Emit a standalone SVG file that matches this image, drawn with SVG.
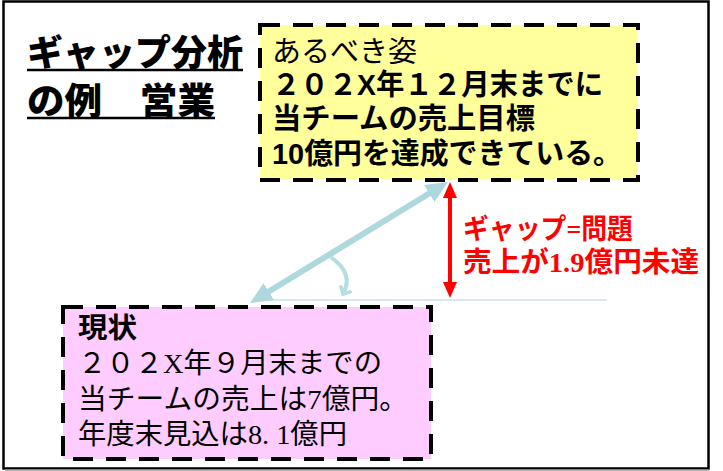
<svg xmlns="http://www.w3.org/2000/svg" width="723" height="471" viewBox="0 0 723 471">
  <style>
    .frame { fill: #ffffff; stroke: #000000; stroke-width: 2.5; }
    .box { stroke: #000000; stroke-width: 4; stroke-dasharray: 20 13; }
    .goal { fill: #ffff9c; }
    .now { fill: #ffccff; }
    .title { font-family: "Noto Sans CJK JP", sans-serif; font-weight: 900; font-size: 36px; fill: #000; }
    .ul { stroke: #000; stroke-width: 2.5; }
    .mincho { font-family: "Liberation Serif", "Noto Sans CJK JP", serif; font-weight: 400; font-size: 29px; fill: #000; }
    .goth { font-family: "Liberation Sans", "Noto Sans CJK JP", sans-serif; font-weight: 700; font-size: 29px; fill: #000; }
    .pink { font-family: "Liberation Serif", "Noto Sans CJK JP", serif; font-weight: 400; font-size: 28px; fill: #000; }
    .pinkb { font-family: "Liberation Serif", "Noto Sans CJK JP", serif; font-weight: 700; font-size: 28px; fill: #000; }
    .red { font-family: "Liberation Serif", "Noto Sans CJK JP", serif; font-weight: 700; font-size: 28px; fill: #ff0000; }
    .blue { stroke: #acd8de; stroke-width: 6; fill: none; }
    .base { stroke: #c4e2ea; stroke-width: 1.5; fill: none; }
    .arc { stroke: #b6dde3; stroke-width: 4; fill: none; stroke-linecap: round; }
    .redline { stroke: #ff0000; stroke-width: 4; fill: none; }
  </style>
  <defs>
    <marker id="redHead" viewBox="0 0 16 14" refX="8" refY="7" markerWidth="16" markerHeight="14" markerUnits="userSpaceOnUse" orient="auto-start-reverse">
      <path d="M0,0 L16,7 L0,14 z" fill="#ff0000"/>
    </marker>
    <marker id="blueHead" viewBox="0 0 22 20" refX="11" refY="10" markerWidth="22" markerHeight="20" markerUnits="userSpaceOnUse" orient="auto-start-reverse">
      <path d="M0,0 L22,10 L0,20 z" fill="#acd8de"/>
    </marker>
    <marker id="arcHead" viewBox="0 0 14 14" refX="7" refY="7" markerWidth="14" markerHeight="14" markerUnits="userSpaceOnUse" orient="auto">
      <path d="M1,1 L7,7 L1,13" fill="none" stroke="#b6dde3" stroke-width="3.5" stroke-linecap="round" stroke-linejoin="round"/>
    </marker>
  </defs>

  <rect class="frame" x="3.5" y="1.5" width="705" height="467"/>
  <line x1="5" y1="470" x2="709" y2="470" stroke="#9a9a9a" stroke-width="1.5"/>

  <g id="title">
    <text class="title" x="27" y="66" textLength="216" lengthAdjust="spacingAndGlyphs">ギャップ分析</text>
    <line class="ul" x1="27" y1="70" x2="243" y2="70"/>
    <text class="title" x="27" y="114" textLength="188" lengthAdjust="spacingAndGlyphs">の例　営業</text>
    <line class="ul" x1="27" y1="118" x2="215" y2="118"/>
  </g>

  <g id="connectors">
    <line class="base" x1="253" y1="300" x2="607" y2="300"/>
    <line class="blue" x1="438.6" y1="187.7" x2="259.4" y2="297.3" marker-start="url(#blueHead)" marker-end="url(#blueHead)"/>
    <path class="arc" d="M332,258 Q354,274 343,294" marker-end="url(#arcHead)"/>
    <line class="redline" x1="450" y1="190" x2="450" y2="290" marker-start="url(#redHead)" marker-end="url(#redHead)"/>
  </g>

  <g id="goal">
    <rect class="box goal" x="260" y="25" width="378" height="155"/>
    <text class="mincho" x="272" y="62" textLength="145" lengthAdjust="spacingAndGlyphs">あるべき姿</text>
    <text class="goth" x="272" y="95" textLength="331" lengthAdjust="spacingAndGlyphs">２０２X年１２月末までに</text>
    <text class="goth" x="272" y="129" textLength="263" lengthAdjust="spacingAndGlyphs">当チームの売上目標</text>
    <text class="goth" x="272" y="164" textLength="350" lengthAdjust="spacingAndGlyphs">10億円を達成できている。</text>
  </g>

  <g id="current">
    <rect class="box now" x="63" y="307" width="368" height="152"/>
    <text class="pinkb" x="78" y="338" textLength="59" lengthAdjust="spacingAndGlyphs">現状</text>
    <text class="pink" x="78" y="373" textLength="304" lengthAdjust="spacingAndGlyphs">２０２X年９月末までの</text>
    <text class="pink" x="78" y="409" textLength="330" lengthAdjust="spacingAndGlyphs">当チームの売上は7億円。</text>
    <text class="pink" x="78" y="444" textLength="269" lengthAdjust="spacingAndGlyphs">年度末見込は8. 1億円</text>
  </g>

  <g id="gap-label">
    <text class="red" x="463" y="239" textLength="170" lengthAdjust="spacingAndGlyphs">ギャップ=問題</text>
    <text class="red" x="463" y="272" textLength="236" lengthAdjust="spacingAndGlyphs">売上が1.9億円未達</text>
  </g>
</svg>
